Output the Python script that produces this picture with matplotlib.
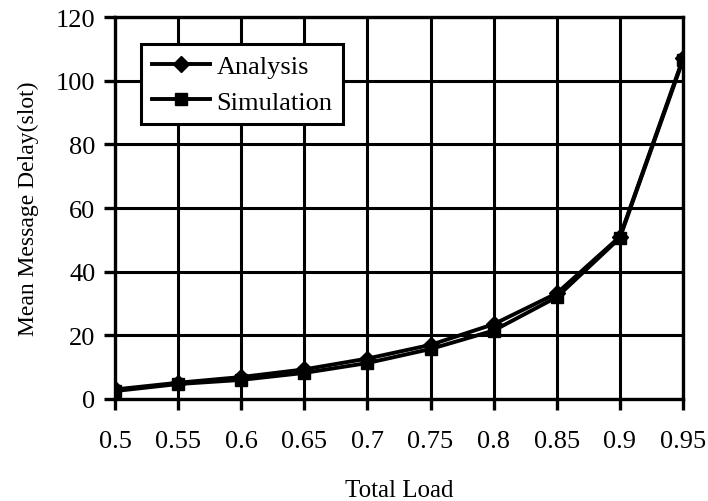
import matplotlib
matplotlib.use("Agg")
import matplotlib.pyplot as plt

load = [0.5, 0.55, 0.6, 0.65, 0.7, 0.75, 0.8, 0.85, 0.9, 0.95]
analysis = [3.0, 5.1, 6.9, 9.3, 12.7, 17.0, 23.5, 33.2, 51.0, 107.0]
simulation = [2.5, 4.7, 6.0, 8.2, 11.3, 15.7, 21.5, 32.0, 50.6, 106.5]
xticklabels = ["0.5", "0.55", "0.6", "0.65", "0.7", "0.75", "0.8", "0.85", "0.9", "0.95"]
yticks = [0, 20, 40, 60, 80, 100, 120]

plt.rcParams['font.family'] = ['Liberation Serif', 'DejaVu Serif']

fig = plt.figure(figsize=(7.08, 5.02), dpi=100)
ax = fig.add_axes([0.1624, 0.2032, 0.8023, 0.7609])

ax.plot(load, analysis, color='black', lw=2.8, marker='D', ms=8, zorder=3, label='Analysis')
ax.plot(load, simulation, color='black', lw=2.8, marker='s', ms=9, zorder=4,
        markeredgecolor='black', label='Simulation')

ax.set_xlim(0.5, 0.95)
ax.set_ylim(0, 120)
ax.set_xticks(load)
ax.set_xticklabels(xticklabels)
ax.set_yticks(yticks)
ax.grid(True, color='black', lw=2.2)
ax.set_axisbelow(True)
for s in ax.spines.values():
    s.set_linewidth(2.4)
    s.set_color('black')
ax.tick_params(direction='out', length=8, width=2.4, labelsize=19)
ax.tick_params(axis='x', pad=14)
ax.tick_params(axis='y', pad=6)
ax.set_xlabel('Total Load', fontsize=18, labelpad=20)
ax.set_ylabel('Mean Message Delay(slot)', fontsize=17, labelpad=12)

leg = ax.legend(loc='upper left', bbox_to_anchor=(0.046, 0.929), fontsize=19,
                frameon=True, fancybox=False, handlelength=2.2, handletextpad=0.25,
                borderpad=0.4, labelspacing=0.45, borderaxespad=0)
leg.get_frame().set_edgecolor('black')
leg.get_frame().set_linewidth(2.2)
leg.get_frame().set_alpha(1)

fig.savefig('out.png', dpi=100)
